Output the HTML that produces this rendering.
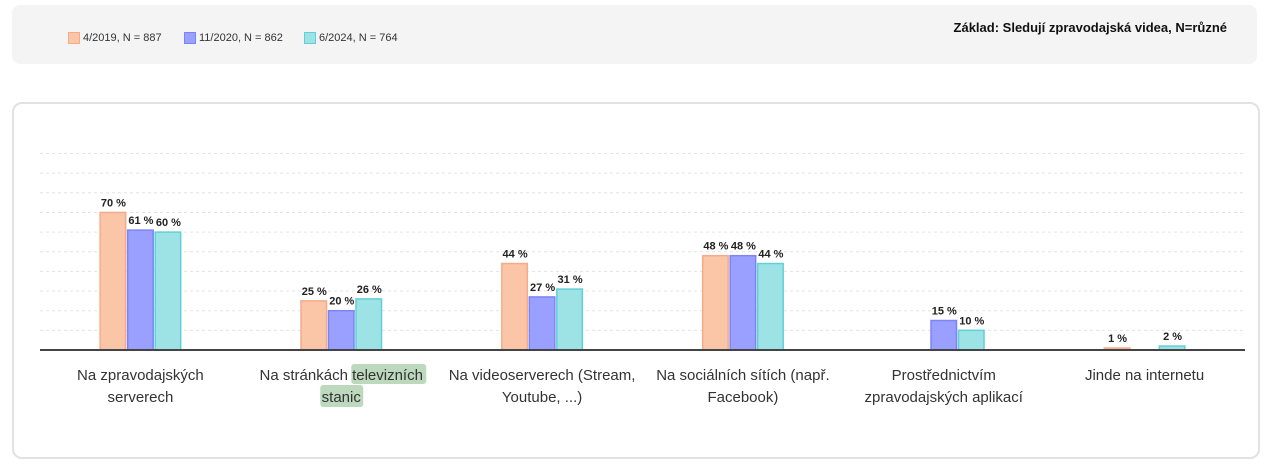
<!DOCTYPE html>
<html><head><meta charset="utf-8"><style>
body{margin:0;width:1280px;height:470px;background:#fff;font-family:"Liberation Sans",sans-serif;overflow:hidden;position:relative}
.top{position:absolute;left:12px;top:5px;width:1245px;height:59px;background:#f4f4f4;border-radius:8px}
.leg{position:absolute;top:27px;font-size:11px;color:#333;display:flex;align-items:center}
.sw{width:10px;height:10px;margin-right:3px;border:1px solid}
.basis{position:absolute;right:30px;top:15px;font-size:13px;font-weight:bold;color:#111}
.box{position:absolute;left:12px;top:102px;width:1248px;height:357px;border:2px solid #e2e2e2;border-radius:10px;box-sizing:border-box}
</style></head><body>
<div class="top">
<div class="leg" style="left:56px"><span class="sw" style="background:#fbc5a8;border-color:#f5ab88"></span>4/2019, N = 887</div>
<div class="leg" style="left:172px"><span class="sw" style="background:#9aa0ff;border-color:#7c83f5"></span>11/2020, N = 862</div>
<div class="leg" style="left:292px"><span class="sw" style="background:#9de3e6;border-color:#5fd0d6"></span>6/2024, N = 764</div>
<div class="basis">Základ: Sledují zpravodajská videa, N=různé</div>
</div>
<div class="box"></div>
<svg id="chart" width="1280" height="470" style="position:absolute;left:0;top:0"></svg>
<script>
const categories=[["Na zpravodajských","serverech"],["Na stránkách televizních","stanic"],["Na videoserverech (Stream,","Youtube, ...)"],["Na sociálních sítích (např.","Facebook)"],["Prostřednictvím","zpravodajských aplikací"],["Jinde na internetu"]];
const s2019=[70,25,44,48,0,1];
const s2020=[61,20,27,48,15,0];
const s2024=[60,26,31,44,10,2];
const gridTicks=[10,20,30,40,50,60,70,80,90,100];
const series=[{v:s2019,f:"#fbc5a8",s:"#f5ab88",n:"2019"},{v:s2020,f:"#9aa0ff",s:"#7c83f5",n:"2020"},{v:s2024,f:"#9de3e6",s:"#5fd0d6",n:"2024"}];
const svg=document.getElementById('chart');const NS="http://www.w3.org/2000/svg";
const x0=40,x1=1245,base=350,pxPer=1.965;
const y=v=>base-v*pxPer;
const gw=(x1-x0)/categories.length;
const gc=i=>x0+gw*(i+0.5);
function mk(t,a){const e=document.createElementNS(NS,t);for(const k in a)e.setAttribute(k,a[k]);svg.appendChild(e);return e;}
gridTicks.forEach(t=>{const l=mk('line',{x1:x0,x2:x1,y1:y(t),y2:y(t),stroke:'#e3e3e3','stroke-dasharray':'3,3'});

});
const bw=27.5;
series.forEach((s,j)=>{s.v.forEach((v,i)=>{
const bx=gc(i)-1.5*bw+j*bw+0.5;
if(v>0){const r=mk('rect',{x:bx+0.5,y:y(v),width:bw-2,height:base-y(v),fill:s.f,stroke:s.s,'stroke-width':1.5});


const t=mk('text',{x:bx+bw/2,y:y(v)-6,'text-anchor':'middle','font-size':11,'font-weight':'bold',fill:'#222'});t.textContent=v+' %';

}
});});
const ax=mk('line',{x1:x0,x2:x1,y1:base,y2:base,stroke:'#444','stroke-width':2});


categories.forEach((c,i)=>{c.forEach((ln,k)=>{
if(i===1){ if(k===0){const h=mk('rect',{x:gc(i)+10,y:364,width:75,height:20,fill:'#bcd8bd',rx:3});}
 else {const h=mk('rect',{x:gc(i)-21,y:385,width:43,height:22,fill:'#bcd8bd',rx:3});}}
const t=mk('text',{x:gc(i),y:380+k*22,'text-anchor':'middle','font-size':15,fill:'#333'});t.textContent=ln;

});});
</script>
</body></html>
